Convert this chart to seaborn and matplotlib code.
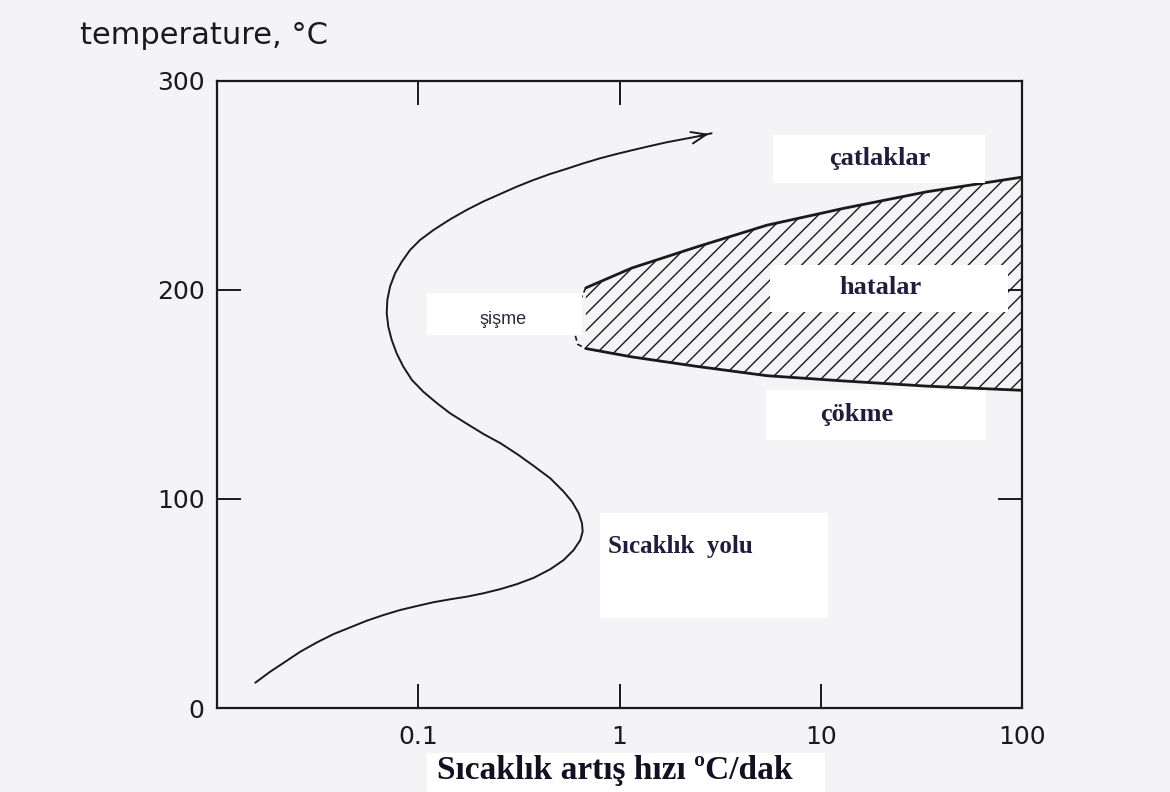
import matplotlib
matplotlib.use("Agg")
import matplotlib.pyplot as plt
from matplotlib.patches import Rectangle
import seaborn as sns
import pandas as pd

# Heating path: heating rate (°C/dak) vs temperature (°C)
path_rate = [0.0155, 0.0184, 0.0215, 0.0259, 0.0314, 0.0380, 0.0460, 0.0556, 0.0673,
             0.0814, 0.0986, 0.119, 0.144, 0.175, 0.211, 0.256, 0.310, 0.375, 0.453,
             0.528, 0.592, 0.639, 0.656, 0.651, 0.627, 0.581, 0.528, 0.453, 0.375,
             0.310, 0.256, 0.211, 0.175, 0.144, 0.124, 0.106, 0.0931, 0.0843, 0.0781,
             0.0738, 0.0710, 0.0697, 0.0702, 0.0724, 0.0767, 0.0828, 0.0910, 0.102,
             0.119, 0.144, 0.174, 0.210, 0.255, 0.308, 0.373, 0.452, 0.547, 0.661,
             0.800, 0.969, 1.17, 1.42, 1.72, 2.08, 2.42, 2.87]
path_temp = [12.1, 17.4, 21.7, 26.9, 31.4, 35.4, 38.6, 41.8, 44.5,
             46.9, 48.8, 50.6, 52.0, 53.3, 54.9, 56.9, 59.3, 62.3, 66.4,
             70.8, 75.6, 80.4, 84.4, 88.4, 93.2, 98.7, 103.5, 109.9, 115.8,
             121.5, 126.7, 131.1, 135.9, 141.0, 145.8, 151.3, 156.9, 163.3, 169.7,
             176.1, 182.4, 188.9, 195.2, 201.6, 208.0, 213.5, 219.1, 223.9,
             228.7, 233.8, 238.3, 242.3, 245.9, 249.4, 252.6, 255.5, 258.0, 260.6,
             263.0, 265.1, 267.0, 268.9, 270.7, 272.2, 273.4, 275.0]

# Defect zone boundaries
zone_rate = [0.68, 1.15, 2.4, 5.4, 12.9, 33.7, 100]
zone_upper = [201, 210.5, 220.5, 231, 239, 247, 254]
zone_lower = [172, 168, 163.5, 159, 156.5, 154, 152]
# open (dashed) left end of the zone
edge_rate = [0.68, 0.63, 0.60, 0.60, 0.62, 0.68]
edge_temp = [201, 194, 186, 179, 174, 172]

x_ticks = [0.1, 1, 10, 100]
x_tick_labels = ["0.1", "1", "10", "100"]
y_ticks = [0, 100, 200, 300]

BG = "#f4f3f5"
INK = "#1a1a1a"
LABEL_INK = "#1f1f3d"

sns.set_theme(style="ticks")
plt.rcParams["font.family"] = ["DejaVu Sans"]
plt.rcParams["hatch.linewidth"] = 1.0
plt.rcParams["hatch.color"] = INK

W, H = 1170, 792
fig = plt.figure(figsize=(W / 100, H / 100), dpi=100, facecolor=BG)
ax = fig.add_axes([217 / W, 1 - 708 / H, (1022 - 217) / W, (708 - 81) / H])
ax.set_facecolor(BG)

path = pd.DataFrame({"rate": path_rate, "temp": path_temp})
sns.lineplot(data=path, x="rate", y="temp", sort=False, estimator=None,
             color=INK, linewidth=1.4, ax=ax)
ax.annotate("", xy=(path_rate[-1], path_temp[-1]), xytext=(path_rate[-2], path_temp[-2]),
            arrowprops=dict(arrowstyle="->,head_length=0.9,head_width=0.35",
                            color=INK, lw=1.4))

ax.fill_between(zone_rate, zone_lower, zone_upper, facecolor="none",
                edgecolor=INK, hatch="//", linewidth=0)
sns.lineplot(x=zone_rate, y=zone_upper, color=INK, linewidth=2.0, ax=ax)
sns.lineplot(x=zone_rate, y=zone_lower, color=INK, linewidth=2.0, ax=ax)
ax.plot(edge_rate, edge_temp, color=INK, linewidth=1.2, linestyle=(0, (3, 2)))

ax.set_xscale("log")
ax.set_xlim(0.01, 100)
ax.set_ylim(0, 300)
ax.set_xticks(x_ticks)
ax.set_xticklabels(x_tick_labels)
ax.set_yticks(y_ticks)
ax.minorticks_off()
ax.set_xlabel("")
ax.set_ylabel("")
ax.tick_params(axis="both", direction="in", length=17, width=1.4, color=INK,
               labelsize=18, labelcolor=INK)
ax.tick_params(axis="x", pad=12)
ax.tick_params(axis="y", pad=9)
for s in ax.spines.values():
    s.set_linewidth(1.6)
    s.set_color(INK)
    s.set_visible(True)

# inner ticks on the top and right edges
ax_t = ax.secondary_xaxis("top")
ax_t.set_xticks([0.1, 1])
ax_t.set_xticklabels([])
ax_t.minorticks_off()
ax_t.tick_params(direction="in", length=17, width=1.4, color=INK)
ax_t.spines["top"].set_visible(False)
ax_r = ax.secondary_yaxis("right")
ax_r.set_yticks([100, 200])
ax_r.set_yticklabels([])
ax_r.tick_params(direction="in", length=17, width=1.4, color=INK)
ax_r.spines["right"].set_visible(False)


def px_box(x0, y0, x1, y1):
    fig.add_artist(Rectangle((x0 / W, 1 - y1 / H), (x1 - x0) / W, (y1 - y0) / H,
                             transform=fig.transFigure, facecolor="white",
                             edgecolor="none", zorder=5))


def px_text(x, y, s, ha="center", **kw):
    fig.text(x / W, 1 - y / H, s, ha=ha, va="center", zorder=6, **kw)


serif = ["Liberation Serif", "DejaVu Serif"]

px_box(773, 135, 985, 183)
px_text(880, 158, "çatlaklar", family=serif, fontweight="bold", fontsize=19, color=LABEL_INK)
px_box(770, 265, 1008, 312)
px_text(880, 288, "hatalar", family=serif, fontweight="bold", fontsize=19, color=LABEL_INK)
px_box(766, 390, 986, 440)
px_text(857, 414, "çökme", family=serif, fontweight="bold", fontsize=19, color=LABEL_INK)
px_box(427, 293, 582, 335)
px_text(503, 319, "şişme", family=["Liberation Sans", "DejaVu Sans"], fontsize=13,
        color="#2a2a3a")
px_box(600, 513, 828, 618)
px_text(608, 547, "Sıcaklık  yolu", ha="left", family=serif, fontweight="bold",
        fontsize=18, color=LABEL_INK)

px_box(427, 753, 825, 792)
px_text(615, 771, "Sıcaklık artış hızı ºC/dak", family=serif, fontweight="bold",
        fontsize=24, color="#111122")
px_text(80, 36, "temperature, °C", ha="left", family=["DejaVu Sans"], fontsize=22,
        color=INK)

fig.savefig("out.png", dpi=100, facecolor=BG)
